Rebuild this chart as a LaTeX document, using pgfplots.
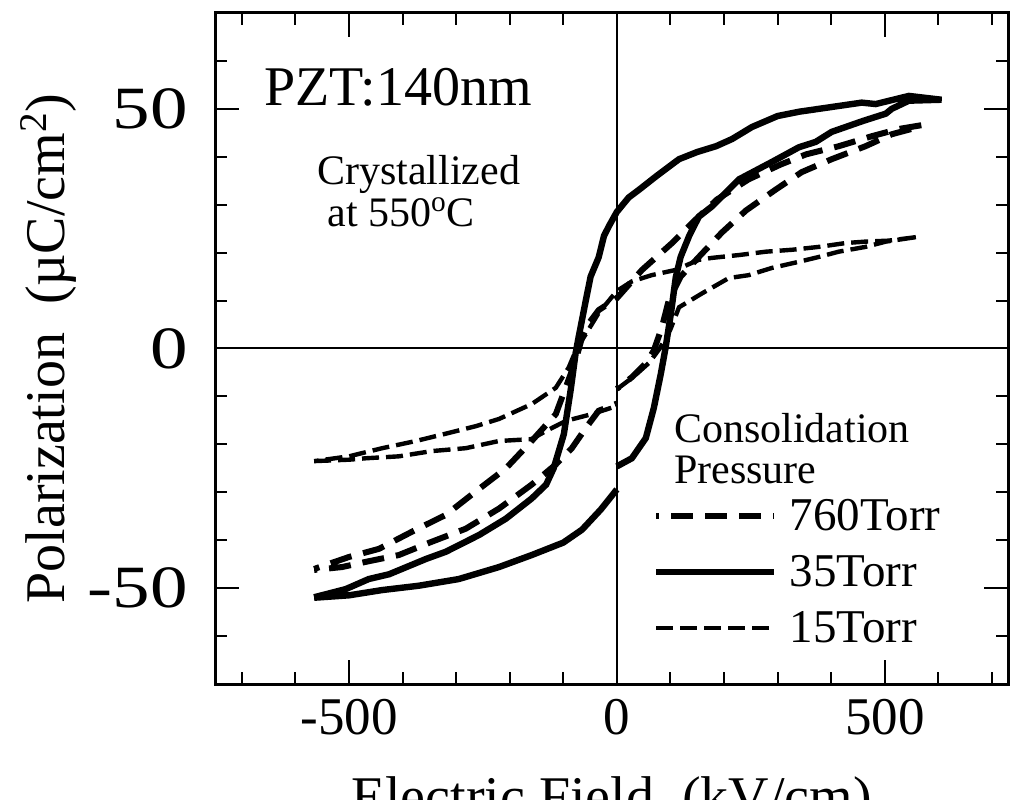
\documentclass[border=0pt]{standalone}
\usepackage{fontspec}
\setmainfont{Liberation Serif}
\usepackage{graphicx}
\usepackage{pgfplots}
\pgfplotsset{compat=1.18}

% 35 Torr loop (lower branch, then upper branch)
\def\loopB{(-565,-52) (-500,-51.5) (-438,-50.4) (-370,-49.5) (-295,-48.1) (-220,-45.6) (-159,-43.1) (-100,-40.5) (-65,-37.8) (-30,-33.6) (0,-29.4) (0,nan)
 (0,-24.6) (28,-22.9) (54,-18.7) (69,-12.4) (82,-5.3) (91,0.2) (101,7.4) (110,14.9) (119,19.1) (135,23.5) (153,27.5) (177,29.6) (228,35.3) (289,38.9) (340,42) (371,43.1) (401,45.2) (460,47.5) (502,49) (513,50) (545,51.7) (606,51.9)
 (545,52.7) (483,51) (457,51.3) (414,50.6) (340,49.4) (300,48.5) (252,46.2) (215,43.7) (185,42.2) (150,41) (116,39.5) (73,35.9) (40,33) (22,31.5) (0,28.5) (-15,25.5) (-24,23.5) (-34,19) (-49,15) (-58,10) (-65,6) (-72,2) (-77,-1) (-86,-8.5) (-99,-17.9) (-118,-25) (-132,-28.4) (-159,-31.3) (-207,-35.5) (-257,-38.9) (-319,-42.4) (-356,-43.9) (-425,-47.1) (-463,-48.1) (-506,-50.2) (-565,-51.9)}

% 760 Torr loop
\def\loopA{(-565,-46.2) (-513,-45.6) (-468,-44.5) (-407,-43.1) (-345,-40.3) (-282,-37.6) (-220,-33.4) (-159,-28.4) (-114,-24.2) (-84,-20.8) (-58,-16.6) (-34,-13) (0,-11.5) (0,nan)
 (0,-8.4) (28,-6) (55,-3) (69,-0.4) (84,4.4) (97,10.1) (119,15) (153,19.1) (196,24.2) (241,28.8) (297,33.2) (345,36.8) (401,39.5) (464,42.2) (513,44.7) (563,46.2) (569,46.6)
 (526,45.8) (476,44.3) (414,42.2) (353,40.5) (306,38.4) (246,35.3) (187,31.1) (147,26.9) (103,22) (47,16.4) (0,10.5) (-34,8) (-52,5.3) (-65,2.3) (-77,-2.5) (-86,-5.3) (-114,-13.7) (-159,-19.3) (-207,-25) (-263,-29.8) (-319,-34.7) (-382,-38.2) (-444,-41.8) (-500,-43.5) (-565,-46)}

% 15 Torr loop
\def\loopC{(-565,-23.5) (-500,-23.2) (-468,-22.9) (-407,-22.5) (-345,-21.4) (-282,-20.8) (-220,-19.3) (-159,-18.9) (-132,-17.2) (-95,-15.1) (-47,-13.7) (0,-12) (0,nan)
 (0,-8.5) (30,-6) (60,-3) (80,0) (100,4) (116,8.6) (159,11.5) (209,14.7) (246,15.3) (289,16.8) (340,18.1) (377,19.1) (414,20.2) (464,21.2) (502,22.3) (550,23.1) (563,23.3)
 (507,22.5) (464,22.3) (427,22) (377,21.2) (327,20.6) (278,20.2) (228,19.5) (177,18.9) (153,18.5) (110,16.4) (65,15.3) (28,14) (0,12) (-34,7.4) (-58,3) (-75,0) (-90,-4) (-114,-8.2) (-159,-11.6) (-220,-14.7) (-263,-16.2) (-313,-17.6) (-375,-19.3) (-438,-20.8) (-500,-22.5) (-565,-23.5)}

\newcommand{\yl}[1]{\scalebox{1.25}[1]{#1}}

\begin{document}
\begin{tikzpicture}
\begin{axis}[
    scale only axis,
    width=396.5pt, height=335.5pt,
    xmin=-750, xmax=730, ymin=-70, ymax=70,
    axis line style={line width=1.5pt},
    tick style={line width=1pt, black},
    tick align=inside,
    major tick length=12pt, minor tick length=6pt,
    xtick={-500,0,500}, xticklabels={-500,0,500},
    ytick={-50,0,50}, yticklabels={\yl{-50},\yl{0},\yl{50}},
    minor xtick={-700,-600,-400,-300,-200,-100,100,200,300,400,600,700},
    minor ytick={-60,-40,-30,-20,-10,10,20,30,40,60},
    xticklabel style={font=\rmfamily\fontsize{26.5}{30}\selectfont, yshift=-4pt},
    yticklabel style={font=\rmfamily\fontsize{30}{34}\selectfont, xshift=-10pt},
    xlabel={Electric Field~ (kV/cm)},
    ylabel={Polarization~ (µC/cm\textsuperscript{2})},
    label style={font=\rmfamily\fontsize{28}{32}\selectfont},
    xlabel style={yshift=-14pt},
    ylabel style={yshift=-1pt},
    unbounded coords=jump,
    legend style={draw=none, fill=none, at={(axis cs:56,-29.6)}, anchor=north west,
        font=\rmfamily\fontsize{23.5}{28}\selectfont, row sep=7pt,
        /tikz/every odd column/.append style={column sep=4pt}},
    legend cell align=left,
    legend image code/.code={\draw[#1] (0pt,0pt) -- (59pt,0pt);},
]
\draw[line width=1pt] (axis cs:-750,0) -- (axis cs:730,0);
\draw[line width=1pt] (axis cs:0,-70) -- (axis cs:0,70);

\addplot[black, line width=3pt, dash pattern=on 11pt off 6pt, dash phase=9.5pt] coordinates {\loopA};
\addlegendentry{760Torr}
\addplot[black, line width=3.2pt] coordinates {\loopB};
\addlegendentry{35Torr}
\addplot[black, line width=2.2pt, dash pattern=on 8.5pt off 3.5pt] coordinates {\loopC};
\addlegendentry{15Torr}

\node[anchor=base west, inner sep=0, font=\rmfamily\fontsize{28}{32}\selectfont] at (axis cs:-659,50.6) {PZT:140nm};
\node[anchor=base west, inner sep=0, font=\rmfamily\fontsize{21}{24}\selectfont] at (axis cs:-560,34.2) {Crystallized};
\node[anchor=base west, inner sep=0, font=\rmfamily\fontsize{21}{24}\selectfont] at (axis cs:-541,25.4) {at 550\textsuperscript{o}C};
\node[anchor=base west, inner sep=0, font=\rmfamily\fontsize{21}{24}\selectfont] at (axis cs:106,-19.7) {Consolidation};
\node[anchor=base west, inner sep=0, font=\rmfamily\fontsize{21}{24}\selectfont] at (axis cs:106,-28.1) {Pressure};
\end{axis}
\pgfresetboundingbox
\path[use as bounding box] ([xshift=-107.5pt,yshift=-57.5pt]current axis.south west) rectangle ([xshift=1.5pt,yshift=6.5pt]current axis.north east);
\end{tikzpicture}
\end{document}
